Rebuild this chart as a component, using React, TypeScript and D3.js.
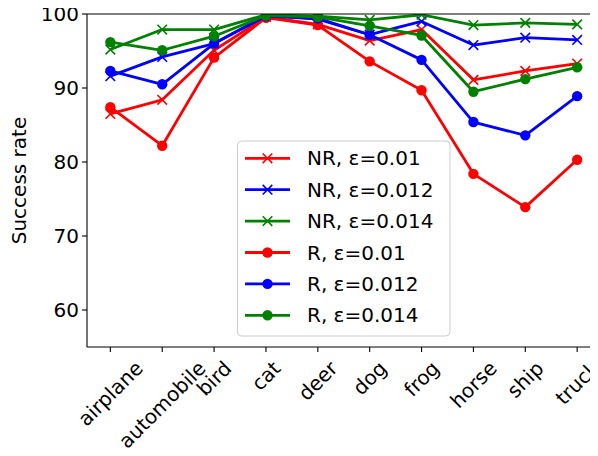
import React, { useEffect, useRef } from 'react';
import * as d3 from 'd3';

const categories = ['airplane', 'automobile', 'bird', 'cat', 'deer', 'dog', 'frog', 'horse', 'ship', 'truck'];

const nrEps01 = [86.5, 88.4, 95.1, 99.6, 98.6, 96.4, 97.9, 91.1, 92.3, 93.3];
const nrEps012 = [91.6, 94.2, 96.0, 99.8, 99.3, 97.2, 99.0, 95.8, 96.8, 96.5];
const nrEps014 = [95.2, 97.9, 97.9, 99.9, 99.7, 99.2, 99.9, 98.5, 98.8, 98.6];
const rEps01 = [87.4, 82.2, 94.1, 99.5, 98.5, 93.6, 89.7, 78.4, 73.9, 80.3];
const rEps012 = [92.3, 90.5, 96.0, 99.7, 99.4, 97.2, 93.8, 85.4, 83.6, 88.9];
const rEps014 = [96.2, 95.1, 97.0, 99.8, 99.6, 98.4, 97.1, 89.5, 91.2, 92.8];

const yTicks = [60, 70, 80, 90, 100];

const series = [
  { label: 'NR, ε=0.01', values: nrEps01, color: '#ff0000', marker: 'x' },
  { label: 'NR, ε=0.012', values: nrEps012, color: '#0000ff', marker: 'x' },
  { label: 'NR, ε=0.014', values: nrEps014, color: '#008000', marker: 'x' },
  { label: 'R, ε=0.01', values: rEps01, color: '#ff0000', marker: 'o' },
  { label: 'R, ε=0.012', values: rEps012, color: '#0000ff', marker: 'o' },
  { label: 'R, ε=0.014', values: rEps014, color: '#008000', marker: 'o' },
];

const W = 598, H = 456;
const FONT = 'DejaVu Sans, sans-serif';
const FS = 20;

export default function App() {
  const svgRef = useRef<SVGSVGElement>(null);

  useEffect(() => {
    const svg = d3.select(svgRef.current);
    svg.selectAll('*').remove();

    const left = 87, top = 14, bottom = 347;
    const x = d3.scaleLinear().domain([-0.45, 9.45]).range([left, 600.5]);
    const y = d3.scaleLinear().domain([55, 100]).range([bottom, top]);

    svg.append('defs').append('clipPath').attr('id', 'plotclip')
      .append('rect').attr('x', left).attr('y', top).attr('width', W - left).attr('height', bottom - top);

    const plot = svg.append('g').attr('clip-path', 'url(#plotclip)');
    const g = svg.append('g');

    // lines + markers
    const line = d3.line<number>().x((_, i) => x(i)).y(d => y(d));
    series.forEach(s => {
      plot.append('path').datum(s.values).attr('d', line)
        .attr('fill', 'none').attr('stroke', s.color).attr('stroke-width', 2.8).attr('stroke-linejoin', 'round');
      s.values.forEach((v, i) => {
        if (s.marker === 'o') {
          plot.append('circle').attr('cx', x(i)).attr('cy', y(v)).attr('r', 5.2).attr('fill', s.color);
        } else {
          const cx = x(i), cy = y(v), r = 4.8;
          plot.append('path').attr('d', `M${cx - r},${cy - r}L${cx + r},${cy + r}M${cx - r},${cy + r}L${cx + r},${cy - r}`)
            .attr('stroke', s.color).attr('stroke-width', 1.6).attr('fill', 'none');
        }
      });
    });

    // spines
    g.append('line').attr('x1', left).attr('x2', W).attr('y1', top).attr('y2', top).attr('stroke', '#000').attr('stroke-width', 1.1);
    g.append('line').attr('x1', left).attr('x2', W).attr('y1', bottom).attr('y2', bottom).attr('stroke', '#000').attr('stroke-width', 1.1);
    g.append('line').attr('x1', left).attr('x2', left).attr('y1', top).attr('y2', bottom).attr('stroke', '#000').attr('stroke-width', 1.1);

    // y ticks
    yTicks.forEach(t => {
      g.append('line').attr('x1', left - 5).attr('x2', left).attr('y1', y(t)).attr('y2', y(t)).attr('stroke', '#000').attr('stroke-width', 1.1);
      g.append('text').attr('x', left - 8).attr('y', y(t)).attr('text-anchor', 'end').attr('dominant-baseline', 'central')
        .attr('font-family', FONT).attr('font-size', FS).attr('fill', '#000').text(t);
    });

    // x ticks with rotated labels (bbox centered under tick, like matplotlib rotation=45)
    categories.forEach((c, i) => {
      const tx = x(i);
      g.append('line').attr('x1', tx).attr('x2', tx).attr('y1', bottom).attr('y2', bottom + 5).attr('stroke', '#000').attr('stroke-width', 1.1);
      const t = g.append('text').attr('font-family', FONT).attr('font-size', FS).attr('fill', '#000')
        .attr('text-anchor', 'middle').attr('dominant-baseline', 'central').text(c);
      const w = (t.node() as SVGTextElement).getComputedTextLength();
      const h = FS * 0.95;
      const bh = (w + h) * Math.SQRT1_2;
      const cy = bottom + 5 + 10 + bh / 2 - 4;
      t.attr('transform', `translate(${tx},${cy}) rotate(-45)`);
    });

    // y label
    svg.append('text').attr('transform', `translate(19,${(top + bottom) / 2}) rotate(-90)`)
      .attr('text-anchor', 'middle').attr('dominant-baseline', 'central')
      .attr('font-family', FONT).attr('font-size', FS).attr('fill', '#000').text('Success rate');

    // legend
    const lg = svg.append('g');
    lg.append('rect').attr('x', 237.5).attr('y', 141).attr('width', 212.5).attr('height', 195).attr('rx', 4)
      .attr('fill', '#fff').attr('fill-opacity', 0.8).attr('stroke', '#cccccc').attr('stroke-width', 1);
    series.forEach((s, i) => {
      const ly = 158.3 + i * 31.4;
      lg.append('line').attr('x1', 245).attr('x2', 290).attr('y1', ly).attr('y2', ly).attr('stroke', s.color).attr('stroke-width', 2.8);
      if (s.marker === 'o') {
        lg.append('circle').attr('cx', 267.5).attr('cy', ly).attr('r', 5.2).attr('fill', s.color);
      } else {
        const r = 4.8;
        lg.append('path').attr('d', `M${267.5 - r},${ly - r}L${267.5 + r},${ly + r}M${267.5 - r},${ly + r}L${267.5 + r},${ly - r}`)
          .attr('stroke', s.color).attr('stroke-width', 1.6);
      }
      lg.append('text').attr('x', 307).attr('y', ly).attr('dominant-baseline', 'central')
        .attr('font-family', FONT).attr('font-size', FS).attr('fill', '#000').text(s.label);
    });
  }, []);

  return (
    <div style={{ margin: -8, width: W, height: H }}>
      <svg ref={svgRef} width={W} height={H} style={{ display: 'block' }} />
    </div>
  );
}
